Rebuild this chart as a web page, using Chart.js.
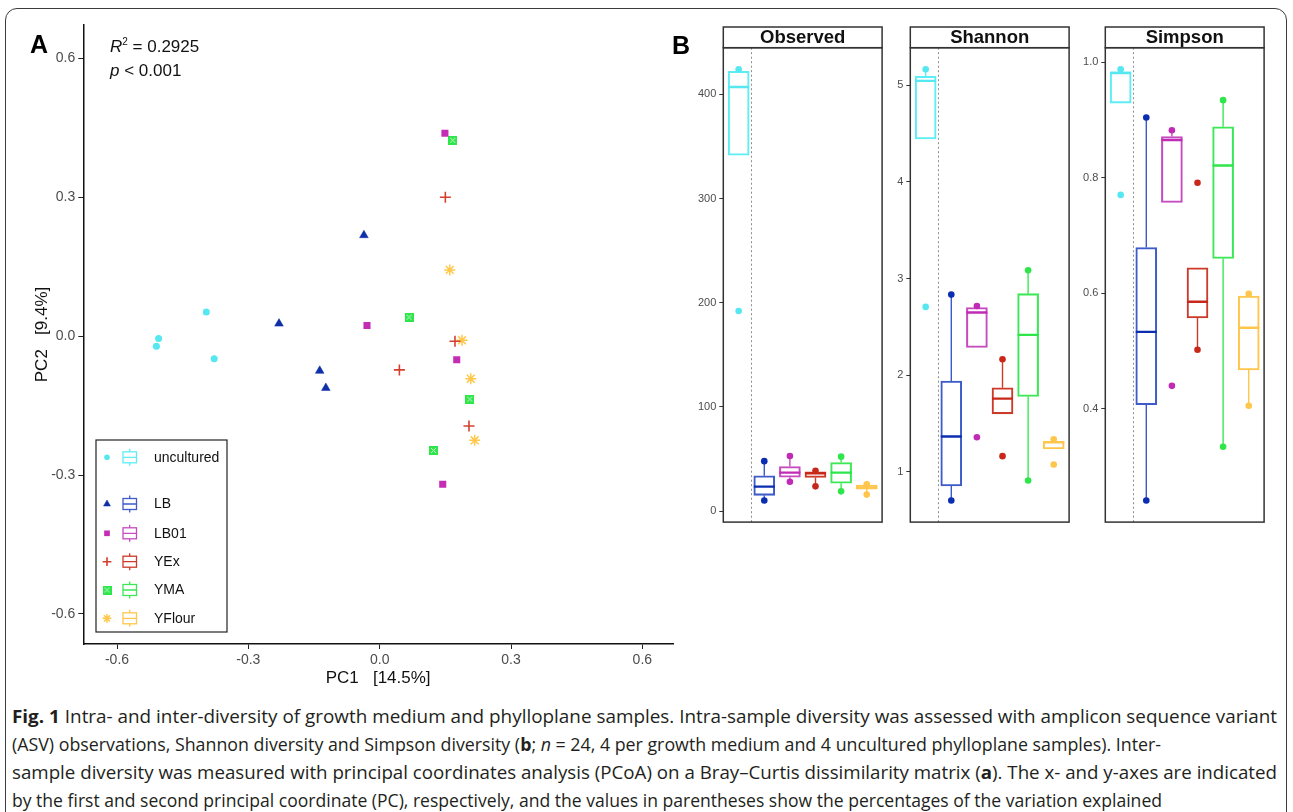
<!DOCTYPE html>
<html>
<head>
<meta charset="utf-8">
<script src="https://cdn.jsdelivr.net/npm/chart.js@4.4.0/dist/chart.umd.min.js"></script>
<style>
  html, body { margin: 0; padding: 0; background: #fff; width: 1293px; height: 812px; overflow: hidden;
    font-family: "Liberation Sans", Arial, sans-serif; }
  .frame { position: absolute; left: 5px; top: 8px; width: 1282px; height: 900px;
    border: 1.5px solid #3c3c3c; border-radius: 12px; box-sizing: border-box; }
  .box { position: absolute; }
  .panel { position: absolute; font-weight: bold; font-size: 25px; line-height: 25px; color: #000; }
  .stat { position: absolute; left: 110px; font-size: 17px; line-height: 24px; color: #111; }
  .stat sup { font-size: 10px; vertical-align: 7px; line-height: 0; }
  .cap { position: absolute; left: 12px; white-space: nowrap; font-family: "Open Sans", sans-serif;
    font-size: 18px; line-height: 28px; color: #231f20; transform-origin: 0 50%; }
</style>
</head>
<body>
<div class="frame"></div>
<div class="box" style="left:0;top:0;width:690px;height:700px"><canvas id="pcoa" width="690" height="700"></canvas></div>
<div class="box" style="left:680px;top:25px;width:215px;height:510px"><canvas id="observed" width="215" height="510"></canvas></div>
<div class="box" style="left:866.7px;top:25px;width:215px;height:510px"><canvas id="shannon" width="215" height="510"></canvas></div>
<div class="box" style="left:1062.4px;top:25px;width:215px;height:510px"><canvas id="simpson" width="215" height="510"></canvas></div>

<div class="panel" style="left:30px;top:32px">A</div>
<div class="panel" style="left:672px;top:33px">B</div>
<div class="stat" style="top:35.4px"><i>R</i><sup>2</sup> = 0.2925</div>
<div class="stat" style="top:59.4px"><i>p</i> &lt; 0.001</div>

<div class="cap" data-w="1265" style="top:702px"><b>Fig. 1</b> Intra- and inter-diversity of growth medium and phylloplane samples. Intra-sample diversity was assessed with amplicon sequence variant</div>
<div class="cap" data-w="1149" style="top:730px">(ASV) observations, Shannon diversity and Simpson diversity (<b>b</b>; <i>n</i> = 24, 4 per growth medium and 4 uncultured phylloplane samples). Inter-</div>
<div class="cap" data-w="1265" style="top:758px">sample diversity was measured with principal coordinates analysis (PCoA) on a Bray–Curtis dissimilarity matrix (<b>a</b>). The x- and y-axes are indicated</div>
<div class="cap" data-w="1150" style="top:786px">by the first and second principal coordinate (PC), respectively, and the values in parentheses show the percentages of the variation explained</div>

<script>
const groups = ['uncultured', 'LB', 'LB01', 'YEx', 'YMA', 'YFlour'];

// PCoA sample coordinates, 4 per group (same order as groups)
const pc1 = [
  [-0.505, -0.510, -0.396, -0.378],
  [-0.230, -0.137, -0.123, -0.036],
  [0.149, -0.029, 0.176, 0.144],
  [0.150, 0.172, 0.045, 0.204],
  [0.167, 0.067, 0.206, 0.123],
  [0.160, 0.188, 0.208, 0.217]
];
const pc2 = [
  [-0.005, -0.022, 0.052, -0.049],
  [0.027, -0.075, -0.112, 0.218],
  [0.438, 0.023, -0.051, -0.320],
  [0.300, -0.011, -0.073, -0.194],
  [0.423, 0.041, -0.136, -0.247],
  [0.143, -0.009, -0.092, -0.225]
];
const pcTicks = [-0.6, -0.3, 0, 0.3, 0.6];
const pc1Range = [-0.677, 0.670];
const pc2Range = [-0.665, 0.672];

// boxplots: [whisker low, q1, median, q3, whisker high] per group
const observedBox = [
  [341.5, 341.5, 407, 422, 424],
  [10.2, 15.2, 23.5, 34, 48],
  [28.2, 32.6, 37, 42.8, 53],
  [23.8, 32.3, 36.4, 37.7, 38.7],
  [19, 26.9, 37, 46.6, 52.3],
  [15.9, 21.2, 22.5, 25, 25.7]
];
const observedDots = [[424, 192], [48, 10.2], [53, 28.2], [38.7, 23.8], [52.3, 19], [25.7, 15.9]];
const observedTicks = [0, 100, 200, 300, 400];

const shannonBox = [
  [4.443, 4.443, 5.044, 5.092, 5.164],
  [0.703, 0.853, 1.366, 1.938, 2.833],
  [2.287, 2.287, 2.648, 2.699, 2.716],
  [1.600, 1.600, 1.757, 1.870, 2.164],
  [0.911, 1.780, 2.417, 2.843, 3.085],
  [1.236, 1.236, 1.305, 1.315, 1.336]
];
const shannonDots = [[5.164, 2.706], [2.833, 0.703], [2.716, 1.357], [2.164, 1.162], [3.085, 0.911], [1.336, 1.075]];
const shannonTicks = [1, 2, 3, 4, 5];

const simpsonBox = [
  [0.929, 0.929, 0.981, 0.983, 0.9875],
  [0.241, 0.407, 0.533, 0.679, 0.904],
  [0.757, 0.757, 0.865, 0.871, 0.882],
  [0.502, 0.557, 0.585, 0.644, 0.644],
  [0.334, 0.660, 0.821, 0.888, 0.934],
  [0.405, 0.467, 0.540, 0.595, 0.599]
];
const simpsonDots = [[0.9875, 0.770], [0.904, 0.241], [0.882, 0.4395], [0.791, 0.502], [0.934, 0.334], [0.599, 0.405]];
const simpsonTicks = [0.4, 0.6, 0.8, 1.0];

const pointColors = ['#55e8f0', '#0f2fa8', '#c42db3', '#d4402f', '#2ee64a', '#ffc84a'];
const boxColors   = ['#5deef5', '#3d5bc9', '#c54bc0', '#cc3a2a', '#3ce855', '#ffc64c'];
const dotColors   = ['#55e8f0', '#0b2db0', '#c02ab5', '#c8281a', '#2ee64a', '#ffc64c'];

// square-with-x marker for YMA
function ymaMarker() {
  const c = document.createElement('canvas');
  c.width = 9; c.height = 9;
  const g = c.getContext('2d');
  g.fillStyle = pointColors[4];
  g.fillRect(0, 0, 9, 9);
  g.strokeStyle = '#c9f7d0';
  g.lineWidth = 1;
  g.beginPath();
  g.moveTo(2, 2); g.lineTo(7, 7);
  g.moveTo(7, 2); g.lineTo(2, 7);
  g.stroke();
  return c;
}
const markers = [
  { style: 'circle', r: 3.5, bw: 0 },
  { style: 'triangle', r: 5, bw: 0.5 },
  { style: 'rect', r: 5, bw: 0 },
  { style: 'cross', r: 5.5, bw: 1.6 },
  { style: ymaMarker(), r: 4.5, bw: 0 },
  { style: 'star', r: 5.5, bw: 1.5 }
];

const legendPlugin = {
  id: 'pcoaLegend',
  afterDraw(chart) {
    const ctx = chart.ctx;
    const rows = [457.3, 504, 533.3, 561.7, 590, 618.3];
    ctx.save();
    ctx.strokeStyle = '#222';
    ctx.lineWidth = 1.2;
    ctx.strokeRect(96, 440, 131, 192);
    groups.forEach((g, i) => {
      const y = rows[i];
      const m = markers[i];
      ctx.fillStyle = pointColors[i];
      ctx.strokeStyle = pointColors[i];
      ctx.lineWidth = m.bw || 1;
      Chart.helpers.drawPoint(ctx, { pointStyle: m.style, radius: m.r * 0.8, rotation: 0, borderWidth: m.bw }, 107, y);
      // box icon
      ctx.strokeStyle = boxColors[i];
      ctx.lineWidth = 1.3;
      ctx.strokeRect(123, y - 5.5, 13.5, 11);
      ctx.beginPath();
      ctx.moveTo(123, y); ctx.lineTo(136.5, y);
      ctx.moveTo(129.7, y - 5.5); ctx.lineTo(129.7, y - 8.5);
      ctx.moveTo(129.7, y + 5.5); ctx.lineTo(129.7, y + 8.5);
      ctx.stroke();
      ctx.fillStyle = '#111';
      ctx.font = '14px "Liberation Sans", Arial, sans-serif';
      ctx.textBaseline = 'middle';
      ctx.fillText(groups[i], 154, y + 0.5);
    });
    ctx.restore();
  }
};

new Chart(document.getElementById('pcoa'), {
  type: 'scatter',
  data: {
    datasets: groups.map((g, i) => ({
      label: g,
      data: pc1[i].map((x, j) => ({ x: x, y: pc2[i][j] })),
      pointStyle: markers[i].style,
      pointRadius: markers[i].r,
      pointBorderWidth: markers[i].bw,
      pointBackgroundColor: pointColors[i],
      pointBorderColor: pointColors[i]
    }))
  },
  options: {
    responsive: false,
    animation: false,
    layout: { padding: { left: 0, top: 25, right: 17, bottom: 0 } },
    plugins: { legend: { display: false }, tooltip: { enabled: false } },
    scales: {
      x: {
        type: 'linear', min: pc1Range[0], max: pc1Range[1],
        afterBuildTicks: s => { s.ticks = pcTicks.map(v => ({ value: v })); },
        afterFit: s => { s.height = 56; },
        ticks: { color: '#4d4d4d', font: { size: 14 }, padding: 3, callback: v => v.toFixed(1) },
        grid: { drawOnChartArea: false, tickLength: 5, color: '#222' },
        border: { color: '#111', width: 1.5 },
        title: { display: true, text: 'PC1   [14.5%]', color: '#111', font: { size: 17 }, padding: { top: 0, bottom: 11.8 } }
      },
      y: {
        type: 'linear', min: pc2Range[0], max: pc2Range[1],
        afterBuildTicks: s => { s.ticks = pcTicks.map(v => ({ value: v })); },
        afterFit: s => { s.width = 83.3; },
        ticks: { color: '#4d4d4d', font: { size: 14 }, padding: 3, callback: v => v.toFixed(1) },
        grid: { drawOnChartArea: false, tickLength: 5, color: '#222' },
        border: { color: '#111', width: 1.5 },
        title: { display: true, text: 'PC2   [9.4%]', color: '#111', font: { size: 17 }, padding: { top: 31.8, bottom: 0 } }
      }
    }
  },
  plugins: [legendPlugin]
});

// facet frame, strip and dashed separator
const facetPlugin = {
  id: 'facet',
  beforeDatasetsDraw(chart) {
    const { ctx, chartArea: a, scales: { x } } = chart;
    const sx = x.getPixelForValue(1.5);
    ctx.save();
    ctx.strokeStyle = '#8a8a8a';
    ctx.lineWidth = 1;
    ctx.setLineDash([2, 2.5]);
    ctx.beginPath();
    ctx.moveTo(sx, a.top);
    ctx.lineTo(sx, a.bottom);
    ctx.stroke();
    ctx.restore();
  },
  afterDraw(chart, args, opts) {
    const { ctx, chartArea: a } = chart;
    ctx.save();
    ctx.strokeStyle = '#333';
    ctx.lineWidth = 1.5;
    ctx.strokeRect(a.left, a.top, a.right - a.left, a.bottom - a.top);
    ctx.fillStyle = '#fff';
    ctx.fillRect(a.left, a.top - 20.7, a.right - a.left, 20.7);
    ctx.strokeRect(a.left, a.top - 20.7, a.right - a.left, 20.7);
    ctx.fillStyle = '#111';
    ctx.font = 'bold 18.5px "Liberation Sans", Arial, sans-serif';
    ctx.textAlign = 'center';
    ctx.textBaseline = 'middle';
    ctx.fillText(opts.title, (a.left + a.right) / 2, a.top - 9.8);
    ctx.restore();
  }
};

function makeFacet(id, title, box, dots, ticks, fmt) {
  const all = box.flat().concat(dots.flat());
  const lo = Math.min(...all), hi = Math.max(...all);
  const pad = (hi - lo) * 0.05;
  const datasets = [];
  datasets.push({
    type: 'scatter',
    data: dots.flatMap((d, i) => d.map(v => ({ x: i + 1, y: v }))),
    pointRadius: 3.3, pointBorderWidth: 0,
    pointBackgroundColor: dots.flatMap((d, i) => d.map(() => dotColors[i]))
  });
  datasets.push({
    type: 'scatter',
    data: box.map((b, i) => ({ x: i + 1, y: b[2] })),
    pointStyle: 'line', pointRadius: 10.5, pointBorderWidth: 2.4,
    pointBorderColor: dotColors
  });
  box.forEach((b, i) => {
    datasets.push({
      type: 'line',
      data: [{ x: i + 1, y: b[0] }, { x: i + 1, y: b[1] }, { x: i + 1, y: null }, { x: i + 1, y: b[3] }, { x: i + 1, y: b[4] }],
      borderColor: boxColors[i], borderWidth: 1.4, pointRadius: 0, spanGaps: false
    });
  });
  datasets.push({
    type: 'bar',
    data: box.map((b, i) => ({ x: i + 1, y: [b[1], b[3]] })),
    borderColor: boxColors, backgroundColor: 'rgba(255,255,255,0)',
    borderWidth: 1.4, borderSkipped: false, barThickness: 21
  });
  new Chart(document.getElementById(id), {
    type: 'bar',
    data: { datasets },
    options: {
      responsive: false,
      animation: false,
      layout: { padding: { left: 0, top: 22.7, right: 4.3, bottom: 8.3 } },
      plugins: { legend: { display: false }, tooltip: { enabled: false }, facet: { title } },
      scales: {
        x: { type: 'linear', min: 0.4, max: 6.6, offset: false, grid: { offset: false }, display: false },
        y: {
          type: 'linear', min: lo - pad, max: hi + pad,
          afterBuildTicks: s => { s.ticks = ticks.map(v => ({ value: v })); },
          afterFit: s => { s.width = 43.3; },
          ticks: { color: '#4d4d4d', font: { size: 11 }, padding: 3, callback: fmt },
          grid: { drawOnChartArea: false, tickLength: 4, color: '#333' },
          border: { display: false }
        }
      }
    },
    plugins: [facetPlugin]
  });
}

makeFacet('observed', 'Observed', observedBox, observedDots, observedTicks, v => String(v));
makeFacet('shannon', 'Shannon', shannonBox, shannonDots, shannonTicks, v => String(v));
makeFacet('simpson', 'Simpson', simpsonBox, simpsonDots, simpsonTicks, v => v.toFixed(1));

// fit caption lines to their widths
document.querySelectorAll('.cap').forEach(el => {
  const w = el.getBoundingClientRect().width;
  el.style.transform = 'scaleX(' + (+el.dataset.w / w) + ')';
});
</script>
</body>
</html>
